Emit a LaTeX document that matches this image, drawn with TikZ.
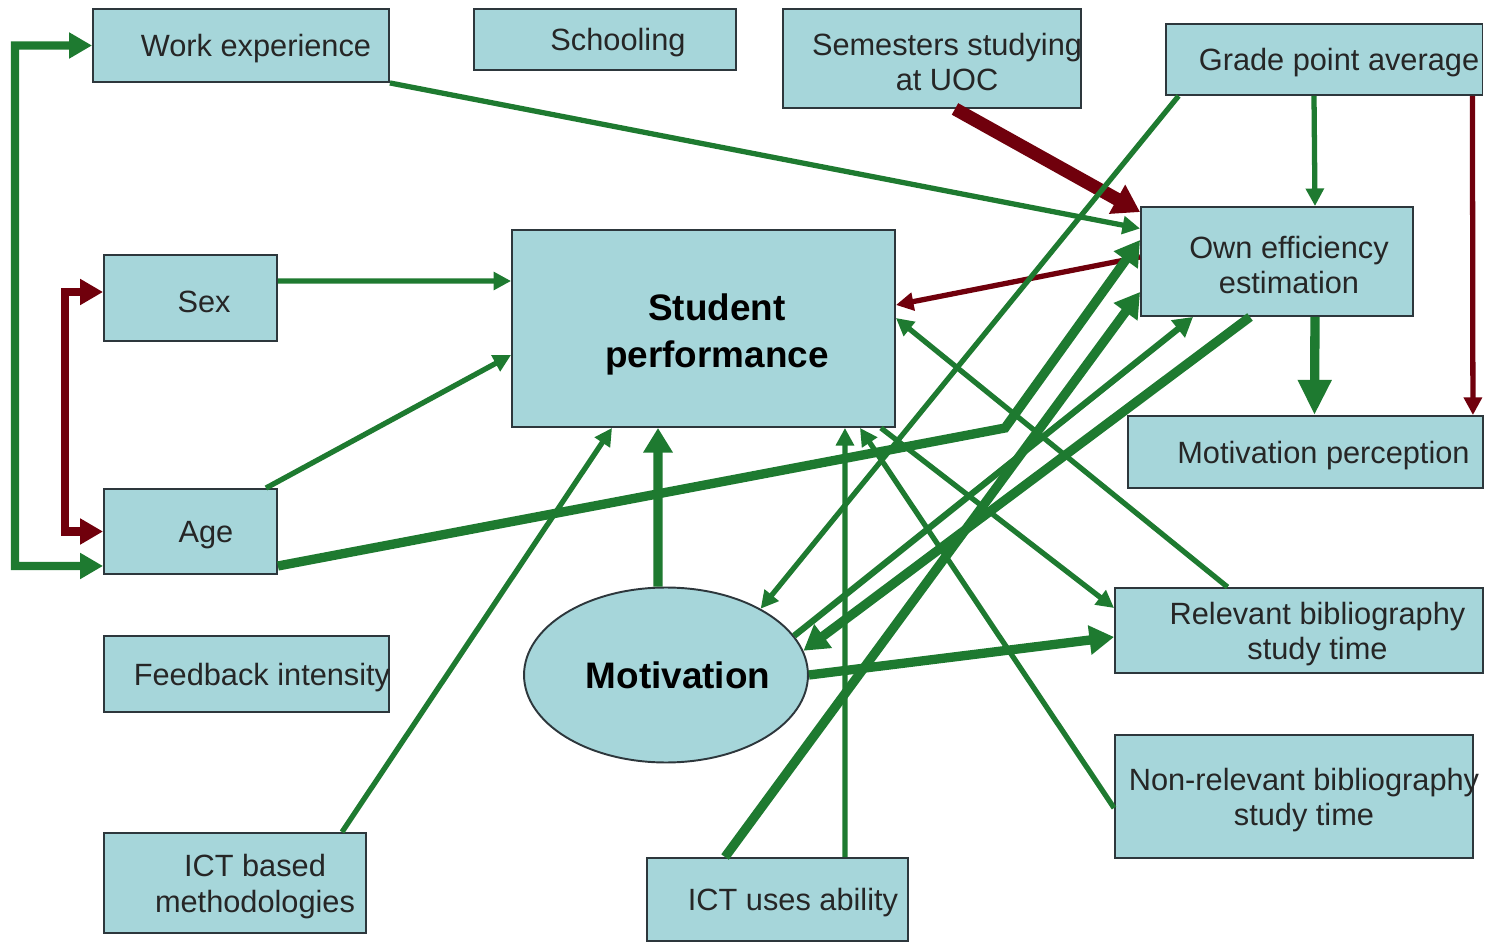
\documentclass[tikz,border=0pt]{standalone}
\usepackage{fontspec}
\setmainfont{Liberation Sans}
\usetikzlibrary{arrows.meta}
\usetikzlibrary{shapes.geometric}
\definecolor{boxfill}{RGB}{166,214,218}
\definecolor{boxline}{RGB}{45,55,60}
\definecolor{arrgreen}{RGB}{30,122,48}
\definecolor{arrred}{RGB}{112,0,12}
\tikzset{box/.style = {rectangle, draw=boxline, fill=boxfill, line width=1.1pt, inner sep=0}}
\tikzset{oval/.style = {ellipse, draw=boxline, fill=boxfill, line width=1.1pt, inner sep=0}}
\tikzset{txt/.style = {font=\fontsize{17.5}{20}\selectfont, align=center, text=black!85, yshift=-0.07cm}}
\tikzset{bigtxt/.style = {font=\fontsize{21}{27}\selectfont\bfseries, align=center}}
\tikzset{garr/.style = {draw=arrgreen, line width=3pt, -{Triangle[length=10pt, width=10pt]}}}
\tikzset{gmid/.style = {draw=arrgreen, line width=3.6pt, -{Triangle[length=11pt, width=12pt]}}}
\tikzset{gthick/.style = {draw=arrgreen, line width=5.3pt, -{Triangle[length=14pt, width=16pt]}}}
\tikzset{gboth/.style = {draw=arrgreen, line width=4.6pt, {Triangle[length=13pt, width=14pt]}-{Triangle[length=13pt, width=14pt]}}}
\tikzset{rarr/.style = {draw=arrred, line width=3pt, -{Triangle[length=10pt, width=10pt]}}}
\tikzset{rthick/.style = {draw=arrred, line width=7.5pt, -{Triangle[length=15pt, width=18pt]}}}
\tikzset{rboth/.style = {draw=arrred, line width=5pt, {Triangle[length=13pt, width=14pt]}-{Triangle[length=13pt, width=14pt]}}}

\begin{document}
\begin{tikzpicture}[x=0.02cm, y=-0.02cm]
      \useasboundingbox (0,0) rectangle (1485,942);

      \node [box, minimum width=5.92cm, minimum height=1.46cm] (work) at (241,45.5) {};
      \node [txt, xshift=0.3cm] at (work) {Work experience};

      \node [box, minimum width=5.24cm, minimum height=1.22cm] (school) at (605,39.5) {};
      \node [txt, xshift=0.26cm] at (school) {Schooling};

      \node [box, minimum width=5.96cm, minimum height=1.98cm] (sem) at (932,58.5) {};
      \node [txt, xshift=0.3cm] at (sem) {Semesters studying\\at UOC};

      \node [box, minimum width=6.34cm, minimum height=1.42cm] (gpa) at (1324,59.5) {};
      \node [txt, xshift=0.3cm] at (gpa) {Grade point average};

      \node [box, minimum width=5.44cm, minimum height=2.18cm] (own) at (1277,261.5) {};
      \node [txt, xshift=0.24cm] at (own) {Own efficiency\\estimation};

      \node [box, minimum width=7.1cm, minimum height=1.44cm] (motp) at (1305.5,452) {};
      \node [txt, xshift=0.36cm] at (motp) {Motivation perception};

      \node [box, minimum width=7.66cm, minimum height=3.94cm] (perf) at (703.5,328.5) {};
      \node [bigtxt, xshift=0.27cm, yshift=-0.12cm] at (perf) {Student\\performance};

      \node [box, minimum width=3.46cm, minimum height=1.72cm] (sex) at (190.5,298) {};
      \node [txt, xshift=0.27cm] at (sex) {Sex};

      \node [box, minimum width=3.46cm, minimum height=1.7cm] (age) at (190.5,531.5) {};
      \node [txt, xshift=0.31cm] at (age) {Age};

      \node [box, minimum width=5.7cm, minimum height=1.52cm] (feed) at (246.5,674) {};
      \node [txt, xshift=0.31cm] at (feed) {Feedback intensity};

      \node [box, minimum width=5.24cm, minimum height=2cm] (ictm) at (235,883) {};
      \node [txt, xshift=0.4cm] at (ictm) {ICT based\\methodologies};

      \node [oval, minimum width=5.68cm, minimum height=3.5cm] (motv) at (666,675) {};
      \node [bigtxt, xshift=0.24cm] at (motv) {Motivation};

      \node [box, minimum width=5.22cm, minimum height=1.66cm] (icta) at (777.5,899.5) {};
      \node [txt, xshift=0.31cm] at (icta) {ICT uses ability};

      \node [box, minimum width=7.36cm, minimum height=1.7cm] (relb) at (1299,630.5) {};
      \node [txt, xshift=0.37cm] at (relb) {Relevant bibliography\\study time};

      \node [box, minimum width=7.16cm, minimum height=2.46cm] (nonr) at (1294,796.5) {};
      \node [txt, xshift=0.2cm] at (nonr) {Non-relevant bibliography\\study time};

      \coordinate (lb) at (15,566);
      \coordinate (rb) at (65,531.5);
      \coordinate (bend) at (1005,428);

      % left brackets
      \draw [gboth] (work.west) -| (lb) -- ([yshift=-0.69cm]age.west);
      \draw [rboth] ([yshift=0.12cm]sex.west) -| (rb) -- (age.west);

      % into student performance
      \draw [garr] ([yshift=0.34cm]sex.east) -- ([yshift=0.95cm]perf.west);
      \draw [garr] ([xshift=-0.24cm]age.north east) -- ([yshift=-0.53cm]perf.west);
      \draw [garr] ([xshift=2.14cm]ictm.north) -- ([xshift=-1.83cm]perf.south);
      \draw [gthick] ([xshift=-0.16cm]motv.north) -- ([xshift=-0.91cm]perf.south);
      \draw [garr] ([xshift=1.35cm]icta.north) -- ([xshift=2.83cm]perf.south);
      \draw [garr] ([yshift=-0.23cm]nonr.west) -- ([xshift=3.13cm]perf.south);
      \draw [garr] ([xshift=-1.43cm]relb.north) -- ([yshift=0.21cm]perf.east);
      \draw [rarr] ([yshift=0.09cm]own.west) -- ([yshift=0.47cm]perf.east);

      % into own efficiency estimation
      \draw [garr] (work.south east) -- ([yshift=0.66cm]own.west);
      \draw [rthick] ([xshift=0.46cm]sem.south) -- ([yshift=-0.12cm]own.north west);
      \draw [garr] ([xshift=-0.2cm]gpa.south) -- ([xshift=0.76cm]own.north);
      \draw [gthick] ([yshift=-0.69cm]age.east) -- (bend) -- ([yshift=0.43cm]own.west);
      \draw [gthick] ([xshift=-1.05cm]icta.north) -- ([yshift=-0.61cm]own.west);
      \draw [gmid] (motv.17) -- ([xshift=-1.68cm]own.south);

      % out of own efficiency estimation and grade point average
      \draw [gthick] ([xshift=-0.54cm]own.south) -- (motv.10);
      \draw [gthick, -{Triangle[length=20pt, width=18pt]}] ([xshift=0.76cm]own.south) -- ([xshift=0.18cm]motp.north);
      \draw [rarr] ([xshift=-0.22cm]gpa.south east) -- ([xshift=-0.22cm]motp.north east);
      \draw [garr] ([xshift=0.28cm]gpa.south west) -- (motv.35);

      % out of student performance and motivation
      \draw [garr] ([xshift=-0.3cm]perf.south east) -- ([yshift=0.45cm]relb.west);
      \draw [gthick] (motv.east) -- ([yshift=-0.13cm]relb.west);
    \end{tikzpicture}
\end{document}
